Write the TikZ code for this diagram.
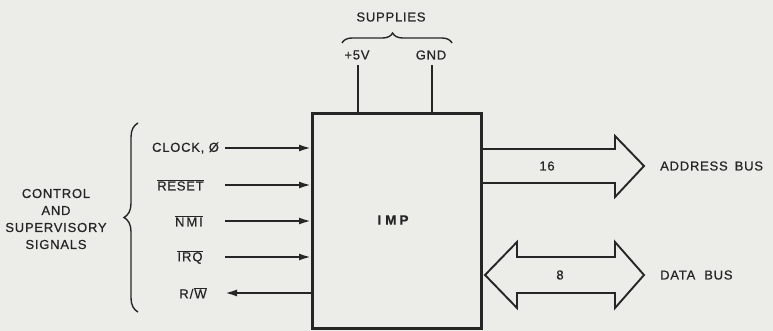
\documentclass[tikz,border=0pt]{standalone}
\usepackage{fontspec}
\setmainfont{Liberation Sans}[LetterSpace=6,FakeBold=0.6]
\usetikzlibrary{arrows.meta,decorations.pathreplacing,calc}
\definecolor{ink}{RGB}{38,38,38}
\definecolor{paper}{RGB}{236,236,232}
\newcommand{\ovl}[1]{$\overline{\hbox{#1}}$}
\begin{document}
\begin{tikzpicture}[x=1pt,y=-1pt,
  lbl/.style={font=\fontsize{13}{14}\selectfont, text=ink, inner sep=0pt},
  sig/.style={draw=ink, line width=2pt, -{Latex[length=12pt,width=7pt]}},
  pwr/.style={draw=ink, line width=2.6pt},
  bus/.style={draw=ink, line width=1.9pt, line join=miter},
  brc/.style={draw=ink, line width=1.4pt, decorate}]
\fill[paper] (0,0) rectangle (773,331);
\useasboundingbox (0,0) rectangle (773,331);

% main box
\node[draw=ink, line width=3pt, minimum width=169pt, minimum height=214pt, inner sep=0pt] (imp) at (397,221) {};
\node[lbl, font=\fontsize{13.5}{15}\selectfont\bfseries] (impl) at (393,220) {I\hspace{4pt}M\hspace{3pt}P};

% supplies
\node[lbl] (sup) at (391,17) {SUPPLIES};
\node[lbl] (p5) at (357,55) {+5V};
\node[lbl] (gnd) at (431,55) {GND};
\coordinate (p5c) at (358,65);
\coordinate (gndc) at (432,65);
\draw[pwr] (p5c) -- (p5c |- imp.north);
\draw[pwr] (gndc) -- (gndc |- imp.north);
\draw[brc, decoration={brace, amplitude=10pt, aspect=0.46}] (342,43) -- (452,43);

% control signals
\node[lbl] (clk) at (185.5,148) {CLOCK, Ø};
\node[lbl] (rst) at (180.5,185) {\ovl{RESET}};
\node[lbl] (nmi) at (189,221) {\ovl{N\hspace{2pt}M\hspace{2pt}I}};
\node[lbl] (irq) at (190,257) {\ovl{I\hspace{1pt}R\hspace{1pt}Q}};
\node[lbl] (rw) at (193,293) {R\hspace{1pt}/\hspace{1pt}\ovl{W}};
\coordinate (c1) at (225,148);
\coordinate (c2) at (225,185);
\coordinate (c3) at (225,221);
\coordinate (c4) at (225,257);
\coordinate (c5) at (225,293);
\draw[sig] (c1) -- (c1 -| imp.west);
\draw[sig] (c2) -- (c2 -| imp.west);
\draw[sig] (c3) -- (c3 -| imp.west);
\draw[sig] (c4) -- (c4 -| imp.west);
\draw[sig] (c5 -| imp.west) -- (c5);

\draw[brc, decoration={brace, amplitude=14pt, aspect=0.5}] (138,312) -- (138,123);
\node[lbl, align=center, font=\fontsize{13}{17}\selectfont] (ctl) at (56,219) {CONTROL\\AND\\SUPERVISORY\\SIGNALS};

% address bus
\draw[bus] (482,149) -- (615,149) -- (615,136) -- (644,166) -- (615,197) -- (615,183) -- (482,183);
\node[lbl] (n16) at (547,166) {16};
\node[lbl, anchor=west] (ab) at (660,166) {ADDRESS\hspace{7pt}BUS};

% data bus
\draw[bus] (485,275) -- (517,242) -- (517,257) -- (615,257) -- (615,242) -- (644,275) -- (615,308) -- (615,293) -- (517,293) -- (517,308) -- cycle;
\node[lbl] (n8) at (560,275) {8};
\node[lbl, anchor=west] (db) at (660,275) {DATA\hspace{9pt}BUS};
\end{tikzpicture}
\end{document}
